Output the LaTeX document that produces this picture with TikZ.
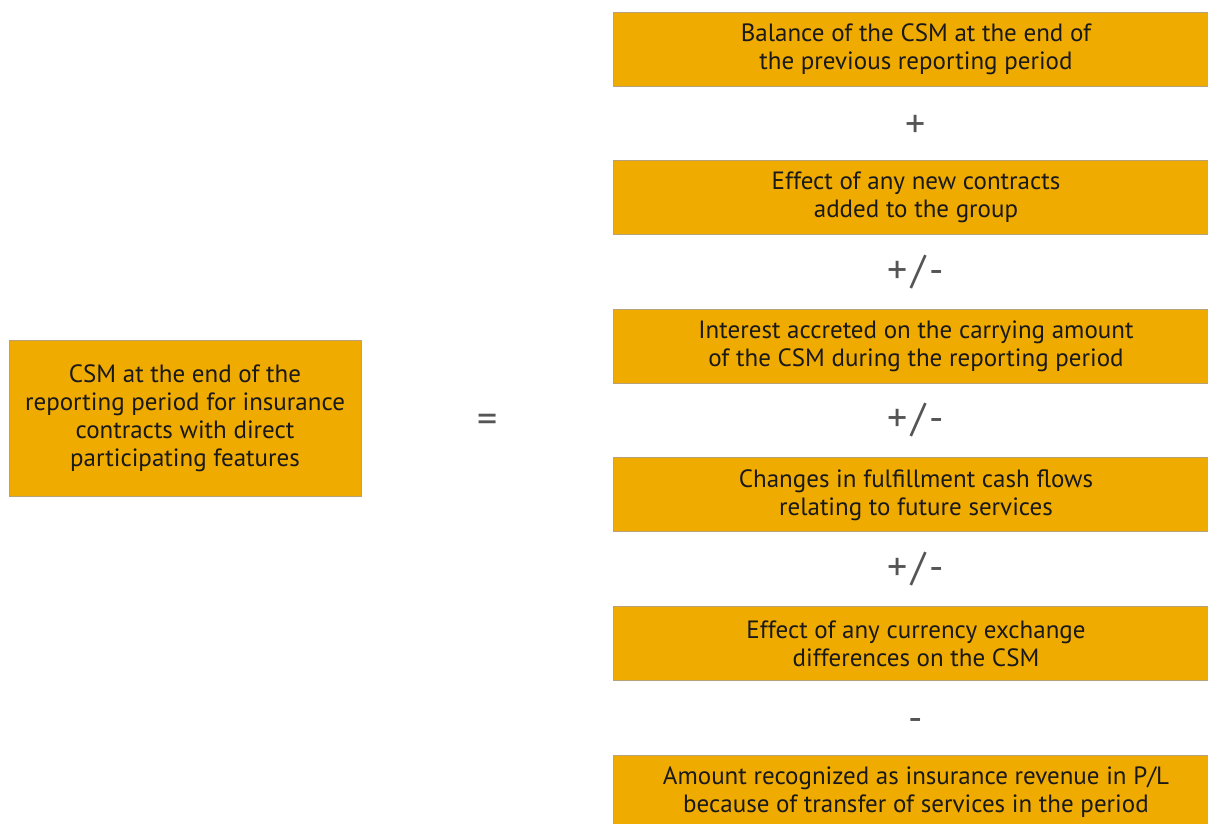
\documentclass[tikz,border=0pt]{standalone}
\usepackage{fontspec}
\setmainfont{PT Sans}
\usetikzlibrary{positioning}

\definecolor{csmgold}{HTML}{F0AB00}
\definecolor{csmedge}{HTML}{B8A27A}
\definecolor{opgray}{HTML}{555555}

\tikzset{
  box/.style={draw=csmedge, line width=0.8pt, fill=csmgold, align=center,
    font=\fontsize{25}{28}\selectfont, text=black!90, inner sep=0pt, outer sep=0pt},
  step box/.style={box, minimum width=606pt, minimum height=74pt},
  op/.style={minimum height=74.6pt, inner sep=0pt, outer sep=0pt, text=opgray,
    font=\fontsize{40}{40}\selectfont}
}
\newcommand{\plusminus}{+\hspace{4pt}/\hspace{4pt}-}
\newcommand{\lowered}[2]{\raisebox{-#1}[\height][\depth]{#2}}

\begin{document}
\begin{tikzpicture}[x=1pt, y=-1pt]
    \useasboundingbox (0,0) rectangle (1208,823);
    % right column
    \node[step box] (bal) at (916,49) {Balance of the CSM at the end of\\the previous reporting period};
    \node[op, below=0pt of bal] (op1) {\lowered{3pt}{+}};
    \node[step box, below=0pt of op1] (new) {Effect of any new contracts\\added to the group};
    \node[op, below=0pt of new] (op2) {\plusminus};
    \node[step box, below=0pt of op2] (int) {Interest accreted on the carrying amount\\of the CSM during the reporting period};
    \node[op, below=0pt of int] (op3) {\plusminus};
    \node[step box, below=0pt of op3] (fcf) {Changes in fulfillment cash flows\\relating to future services};
    \node[op, below=0pt of fcf] (op4) {\plusminus};
    \node[step box, below=0pt of op4] (fx) {Effect of any currency exchange\\differences on the CSM};
    \node[op, below=0pt of fx] (op5) {\lowered{7pt}{-}};
    \node[step box, below=0pt of op5] (rev) {Amount recognized as insurance revenue in P/L\\because of transfer of services in the period};
    % left side
    \node[box, minimum width=352pt, minimum height=156pt] (csm) at (185,418)
      {CSM at the end of the\\reporting period for insurance\\contracts with direct\\participating features};
    \node[op] (eq) at (488,423) {=};
\end{tikzpicture}
\end{document}
